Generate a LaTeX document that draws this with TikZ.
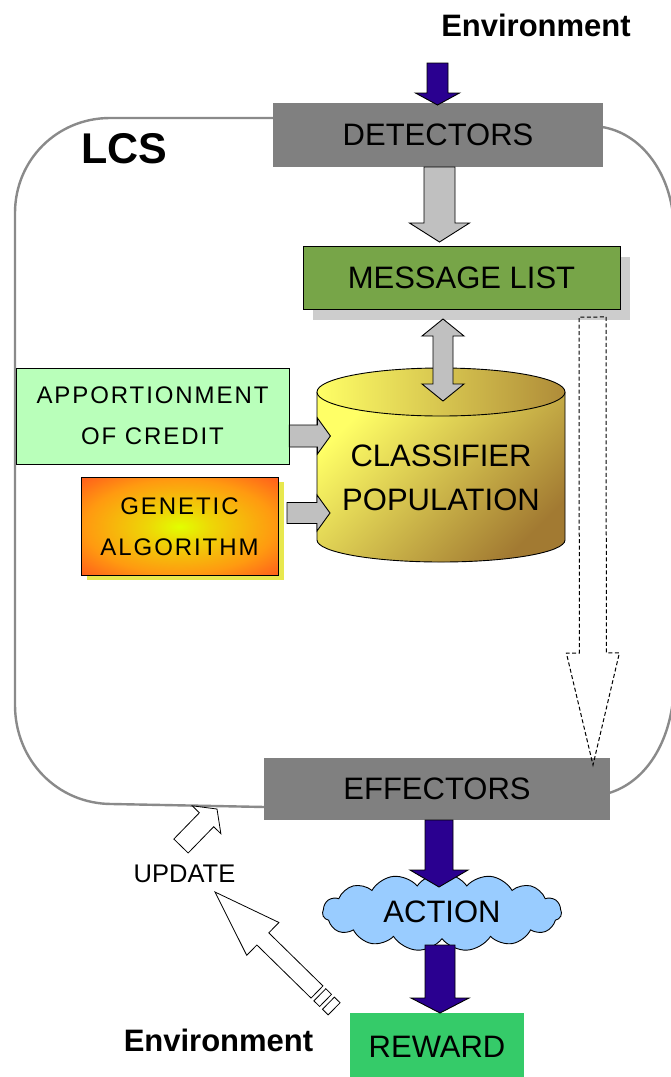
\documentclass[tikz,border=0pt]{standalone}
\usepackage{fontspec}
\setmainfont{Liberation Sans}
\usetikzlibrary{calc,shapes.symbols,shadings}

\definecolor{boxgray}{HTML}{808080}
\definecolor{loopgray}{HTML}{8A8A8A}
\definecolor{arrowgray}{HTML}{C0C0C0}
\definecolor{msggreen}{HTML}{77A548}
\definecolor{shadowgray}{HTML}{CDCDCD}
\definecolor{mint}{HTML}{B9FFBA}
\definecolor{gaYellow}{HTML}{E2FF00}
\definecolor{gaOrange}{HTML}{FF9A10}
\definecolor{gaRed}{HTML}{FF3A22}
\definecolor{gaShadow}{HTML}{E8E84E}
\definecolor{cylLight}{HTML}{FFFF66}
\definecolor{cylMid}{HTML}{F8F060}
\definecolor{cylDark}{HTML}{A27A32}
\definecolor{cloudblue}{HTML}{99CCFF}
\definecolor{rewardgreen}{HTML}{35CB69}
\definecolor{indigo}{HTML}{2A0090}

% radial fill of the genetic algorithm box
\pgfdeclareradialshading{gashade}{\pgfpoint{0bp}{0bp}}{%
  color(0bp)=(gaYellow); color(8bp)=(gaYellow!60!gaOrange);
  color(24bp)=(gaOrange); color(42bp)=(gaRed); color(50bp)=(gaRed)}

% block arrow: [style]{tail}{tip}{shaft half width}{head half width}{head length}
\newcommand{\blockarrow}[6][]{%
  \path ($(#3)!#6!(#2)$) coordinate (ba-h);
  \draw[#1] ($(#2)!#4!90:(#3)$) -- ($(ba-h)!#4!90:(#3)$) -- ($(ba-h)!#5!90:(#3)$)
    -- (#3) -- ($(ba-h)!#5!-90:(#3)$) -- ($(ba-h)!#4!-90:(#3)$)
    -- ($(#2)!#4!-90:(#3)$) -- cycle;}

% one rectangular stripe of a striped arrow tail: [style]{from}{to}{half width}
\newcommand{\tailstripe}[4][]{%
  \draw[#1] ($(#2)!#4!90:(#3)$) -- ($(#3)!#4!-90:(#2)$)
    -- ($(#3)!#4!90:(#2)$) -- ($(#2)!#4!-90:(#3)$) -- cycle;}

\begin{document}
\begin{tikzpicture}[x=1pt, y=-1pt, line join=miter,
  bigtext/.style={font=\fontsize{31}{37}\selectfont},
  smalltext/.style={font=\fontsize{24}{41}\selectfont\addfontfeature{LetterSpace=8}},
  graybox/.style={rectangle, fill=boxgray, inner sep=0pt, bigtext},
  loopline/.style={draw=loopgray, line width=2.4pt},
  greyarrow/.style={fill=arrowgray, draw=black, line width=0.9pt},
  bluearrow/.style={fill=indigo, draw=black, line width=0.9pt},
  hollowarrow/.style={fill=white, draw=black, line width=0.8pt},
  dasharrow/.style={draw=black, line width=1pt, dash pattern=on 4pt off 2.5pt},
  envtext/.style={font=\fontsize{31}{37}\selectfont\bfseries}]

\useasboundingbox (0,0) rectangle (670,1077);
\fill[white] (0,0) rectangle (670,1077);

% the LCS boundary
\draw[loopline] (273,118) -- (110,118) .. controls (57,118) and (15,160) .. (15,213)
  -- (15,705) .. controls (15,760) and (57,804) .. (112,804) -- (265,807);
\draw[loopline] (602,127) .. controls (640,133) and (668,170) .. (673,215)
  -- (673,700) .. controls (668,745) and (645,782) .. (609,793);

\node[font=\fontsize{43}{50}\selectfont\bfseries] (lcs) at (124,149) {LCS};
\node[envtext] (envtop) at (536,25) {Environment};
\node[envtext] (envbot) at (218.5,1040) {Environment};

% detectors and message list
\node[graybox, minimum width=330pt, minimum height=64pt] (det) at (438,135) {DETECTORS};
\node[rectangle, fill=shadowgray, minimum width=317pt, minimum height=63pt] (msgshadow) at (471.5,288.5) {};
\node[rectangle, draw=black, line width=1pt, fill=msggreen, minimum width=317pt,
  minimum height=63pt, bigtext] (msg) at (461.5,277.5) {MESSAGE LIST};

% classifier population cylinder
\shade[top color=cylLight, middle color=cylMid, bottom color=cylDark, shading angle=45]
  (317,392) -- (317,540) arc[start angle=180, end angle=0, x radius=124, y radius=22]
  -- (565,392) -- cycle;
\draw[line width=0.9pt] (317,392) -- (317,540)
  arc[start angle=180, end angle=0, x radius=124, y radius=22] -- (565,392);
\shade[left color=cylLight, middle color=cylMid, right color=cylDark!85!cylMid]
  (441,392) ellipse[x radius=124, y radius=24];
\draw[line width=0.9pt] (441,392) ellipse[x radius=124, y radius=24];
\node[align=center, font=\fontsize{31}{44.5}\selectfont] (cyl) at (441,478) {CLASSIFIER\\POPULATION};

% apportionment of credit and genetic algorithm
\node[rectangle, draw=black, line width=0.8pt, fill=mint, minimum width=273pt,
  minimum height=96pt, smalltext, align=center] (appr) at (152.5,416) {APPORTIONMENT\\OF CREDIT};
\node[rectangle, fill=gaShadow, minimum width=197pt, minimum height=98pt] (gashadow) at (185.5,531) {};
\node[rectangle, draw=black, line width=0.8pt, shading=gashade, minimum width=197pt,
  minimum height=98pt, smalltext, align=center] (ga) at (179.5,526.5) {GENETIC\\ALGORITHM};

% effectors, action, reward
\node[graybox, minimum width=346pt, minimum height=62pt] (eff) at (437,789) {EFFECTORS};
\node[cloud, cloud puffs=15, cloud puff arc=110, aspect=3.2, draw=black, line width=0.9pt,
  fill=cloudblue, minimum width=239pt, minimum height=78pt, inner sep=0pt, bigtext] (act) at (442,912) {ACTION};
\node[rectangle, fill=rewardgreen, minimum width=174pt, minimum height=67pt, bigtext] (rew) at (437,1046.5) {REWARD};
\node[font=\fontsize{25.5}{30}\selectfont] (upd) at (184.5,874) {UPDATE};

% arrow end points
\coordinate (envin) at (437.5,63);
\coordinate (detin) at (437.5,105);
\coordinate (detout) at (439.5,167);
\coordinate (msgin) at (439.5,242);
\coordinate (approut) at ($(appr.east)+(0,20)$);
\coordinate (cylin1) at ($(approut)+(41,0)$);
\coordinate (gaout) at (287,513);
\coordinate (cylin2) at (330,513);
\coordinate (msgout) at (592.5,317);
\coordinate (effin) at (593,765);
\coordinate (effout) at (439,820);
\coordinate (actin) at (439,887);
\coordinate (actout) at (440,945);
\coordinate (rewin) at (440,1013);
\coordinate (rewout) at (317,992);
\coordinate (updin) at (215,892);
\coordinate (updout) at (181,846);
\coordinate (loopin) at (217,809);
\coordinate (st1a) at ($(rewout)!-4pt!(updin)$);
\coordinate (st1b) at ($(rewout)!-12pt!(updin)$);
\coordinate (st2a) at ($(rewout)!-16pt!(updin)$);
\coordinate (st2b) at ($(rewout)!-24pt!(updin)$);

\blockarrow[bluearrow]{envin}{detin}{10.5pt}{22pt}{12pt}
\blockarrow[greyarrow]{detout}{msgin}{15.5pt}{30pt}{19pt}
% two-headed arrow between message list and classifier population
\draw[greyarrow] (443,319) -- (464,336) -- (453,336) -- (453,384) -- (464,384)
  -- (443,401) -- (422,384) -- (433,384) -- (433,336) -- (422,336) -- cycle;
\blockarrow[greyarrow]{approut}{cylin1}{11pt}{18pt}{13pt}
\blockarrow[greyarrow]{gaout}{cylin2}{10.5pt}{18pt}{13pt}
\blockarrow[dasharrow]{msgout}{effin}{13.5pt}{26.5pt}{112pt}
\blockarrow[bluearrow]{effout}{actin}{14pt}{29pt}{17pt}
\blockarrow[bluearrow]{actout}{rewin}{15pt}{29pt}{15pt}

% reward fed back as update
\blockarrow[hollowarrow]{rewout}{updin}{8.5pt}{23pt}{67pt}
\tailstripe[hollowarrow]{st1a}{st1b}{8.5pt}
\tailstripe[hollowarrow]{st2a}{st2b}{8.5pt}
\blockarrow[hollowarrow]{updout}{loopin}{10pt}{20pt}{15pt}
\end{tikzpicture}
\end{document}
